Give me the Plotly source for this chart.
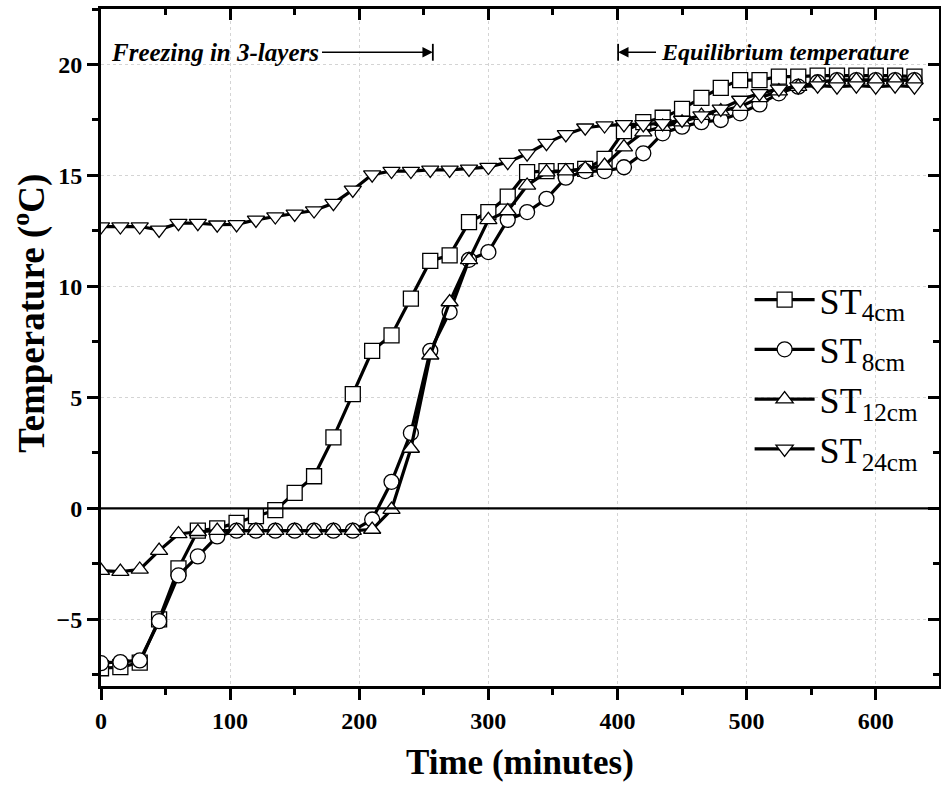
import plotly.graph_objects as go

# time axis, every 15 minutes
time_min = list(range(0, 631, 15))

st_4cm = [-7.2, -7.15, -6.95, -5.0, -2.7, -1.0, -0.9, -0.65, -0.35, -0.08,
          0.7, 1.45, 3.2, 5.15, 7.1, 7.8, 9.45, 11.15, 11.4, 12.9,
          13.35, 14.05, 15.15, 15.2, 15.2, 15.3, 15.75, 17.0, 17.4, 17.6,
          18.0, 18.5, 18.95, 19.3, 19.3, 19.45, 19.45, 19.5, 19.5, 19.5,
          19.5, 19.5, 19.45]
st_8cm = [-6.97, -6.92, -6.85, -5.08, -3.02, -2.16, -1.26, -1.0, -1.0, -1.0,
          -1.0, -1.0, -1.0, -1.0, -0.5, 1.2, 3.4, 7.1, 8.85, 11.2,
          11.55, 13.0, 13.35, 13.95, 14.9, 15.2, 15.2, 15.37, 16.0, 16.9,
          17.2, 17.4, 17.5, 17.8, 18.2, 18.7, 19.0, 19.2, 19.3, 19.3,
          19.3, 19.3, 19.3]
st_12cm = [-2.8, -2.85, -2.75, -1.9, -1.15, -1.05, -1.0, -1.0, -1.0, -1.0,
           -1.0, -1.0, -1.0, -1.0, -0.95, -0.05, 2.7, 6.9, 9.3, 11.2,
           13.0, 13.4, 14.55, 15.15, 15.2, 15.3, 15.45, 16.28, 16.95, 17.2,
           17.4, 17.7, 17.9, 18.1, 18.5, 18.8, 19.0, 19.2, 19.3, 19.3,
           19.3, 19.3, 19.3]
st_24cm = [12.7, 12.7, 12.7, 12.55, 12.85, 12.85, 12.78, 12.8, 13.0, 13.15,
           13.27, 13.42, 13.75, 14.35, 15.04, 15.2, 15.2, 15.25, 15.25, 15.3,
           15.38, 15.6, 15.98, 16.46, 16.85, 17.15, 17.25, 17.3, 17.3, 17.35,
           17.5, 17.7, 18.0, 18.4, 18.7, 18.9, 19.0, 19.05, 19.0, 19.05,
           19.0, 19.05, 19.0]

x_ticks = [0, 100, 200, 300, 400, 500, 600]
y_ticks = [-5, 0, 5, 10, 15, 20]
y_ticklabels = ["−5", "0", "5", "10", "15", "20"]

series = [
    ("ST<sub>4cm</sub>", st_4cm, "square"),
    ("ST<sub>8cm</sub>", st_8cm, "circle"),
    ("ST<sub>12cm</sub>", st_12cm, "triangle-up"),
    ("ST<sub>24cm</sub>", st_24cm, "triangle-down"),
]

serif = "Liberation Serif, Times New Roman, serif"

fig = go.Figure()

for name, values, symbol in series:
    fig.add_trace(go.Scatter(
        x=time_min,
        y=values,
        mode="lines+markers",
        name=name,
        line=dict(color="black", width=3.2),
        marker=dict(symbol=symbol, size=15, color="white",
                    line=dict(color="black", width=1.3)),
    ))

# invisible trace to activate the mirrored axes
fig.add_trace(go.Scatter(x=[0], y=[0], xaxis="x2", yaxis="y2", mode="markers",
                         marker=dict(opacity=0), showlegend=False,
                         hoverinfo="skip"))

# zero line
fig.add_shape(type="line", xref="paper", yref="y", x0=0, x1=1, y0=0, y1=0,
              line=dict(color="black", width=2.2))

# annotation arrows
fig.add_annotation(x=257, y=20.55, ax=170, ay=20.55, xref="x", yref="y",
                   axref="x", ayref="y", showarrow=True, arrowhead=2,
                   arrowsize=1.3, arrowwidth=1.6, arrowcolor="black", text="")
fig.add_shape(type="line", x0=257, x1=257, y0=20.17, y1=20.93,
              line=dict(color="black", width=1.8))
fig.add_annotation(x=170, y=20.55, xref="x", yref="y", xanchor="right",
                   showarrow=False, text="<b><i>Freezing in 3-layers</i></b>",
                   font=dict(family=serif, size=25, color="black"))

fig.add_annotation(x=400.5, y=20.55, ax=431, ay=20.55, xref="x", yref="y",
                   axref="x", ayref="y", showarrow=True, arrowhead=2,
                   arrowsize=1.3, arrowwidth=1.6, arrowcolor="black", text="")
fig.add_shape(type="line", x0=400.5, x1=400.5, y0=20.17, y1=20.93,
              line=dict(color="black", width=1.8))
fig.add_annotation(x=432, y=20.55, xref="x", yref="y", xanchor="left",
                   showarrow=False, text="<b><i>Equilibrium temperature</i></b>",
                   font=dict(family=serif, size=24, color="black"))

# axis titles as annotations to place them like the original
fig.add_annotation(x=-0.085, y=0.551, xref="paper", yref="paper",
                   xanchor="center", yanchor="middle", textangle=-90,
                   showarrow=False, text="<b>Temperature (<sup>o</sup>C)</b>",
                   font=dict(family=serif, size=37, color="black"))
fig.add_annotation(x=0.5, y=-0.113, xref="paper", yref="paper",
                   xanchor="center", yanchor="middle",
                   showarrow=False, text="<b>Time (minutes)</b>",
                   font=dict(family=serif, size=35, color="black"))

tick_font = dict(family=serif, size=24, color="black")

fig.update_layout(
    width=941,
    height=785,
    margin=dict(l=101, r=2, t=9, b=99),
    paper_bgcolor="white",
    plot_bgcolor="white",
    showlegend=True,
    legend=dict(x=0.774, y=0.615, xanchor="left", yanchor="top",
                bgcolor="rgba(0,0,0,0)", tracegroupgap=0,
                font=dict(family=serif, size=36, color="black"),
                itemwidth=60),
    xaxis=dict(
        range=[0, 649], tickvals=x_ticks,
        ticktext=["<b>%d</b>" % v for v in x_ticks],
        ticks="outside", ticklen=11, tickwidth=2.5, tickcolor="black",
        minor=dict(dtick=50, tick0=0, ticks="outside", ticklen=6,
                   tickwidth=2.5, tickcolor="black", showgrid=False),
        showline=True, linewidth=3, linecolor="black",
        showgrid=True, gridcolor="#d4d4d4", griddash="dot", gridwidth=1,
        zeroline=False, tickfont=tick_font, automargin=False,
    ),
    yaxis=dict(
        range=[-8, 22.5], tickvals=y_ticks,
        ticktext=["<b>%s</b>" % t for t in y_ticklabels],
        ticks="outside", ticklen=11, tickwidth=2.5, tickcolor="black",
        minor=dict(dtick=2.5, tick0=0, ticks="outside", ticklen=6,
                   tickwidth=2.5, tickcolor="black", showgrid=False),
        showline=True, linewidth=3, linecolor="black",
        showgrid=True, gridcolor="#d4d4d4", griddash="dot", gridwidth=1,
        zeroline=False, tickfont=tick_font, automargin=False,
    ),
    # mirrored axes with inward ticks on top and right
    xaxis2=dict(
        overlaying="x", side="top", range=[0, 649],
        tickvals=x_ticks, showticklabels=False,
        ticks="inside", ticklen=11, tickwidth=2.5, tickcolor="black",
        minor=dict(dtick=50, tick0=0, ticks="inside", ticklen=6,
                   tickwidth=2.5, tickcolor="black"),
        showline=True, linewidth=3, linecolor="black", showgrid=False,
        zeroline=False, automargin=False,
    ),
    yaxis2=dict(
        overlaying="y", side="right", range=[-8, 22.5],
        tickvals=y_ticks, showticklabels=False,
        ticks="inside", ticklen=11, tickwidth=2.5, tickcolor="black",
        minor=dict(dtick=2.5, tick0=0, ticks="inside", ticklen=6,
                   tickwidth=2.5, tickcolor="black"),
        showline=True, linewidth=3, linecolor="black", showgrid=False,
        zeroline=False, automargin=False,
    ),
)

# remove the default page margin so the figure fills the window
fig.write_html("out.html", config={"displayModeBar": False},
               post_script="document.body.style.margin='0';")
